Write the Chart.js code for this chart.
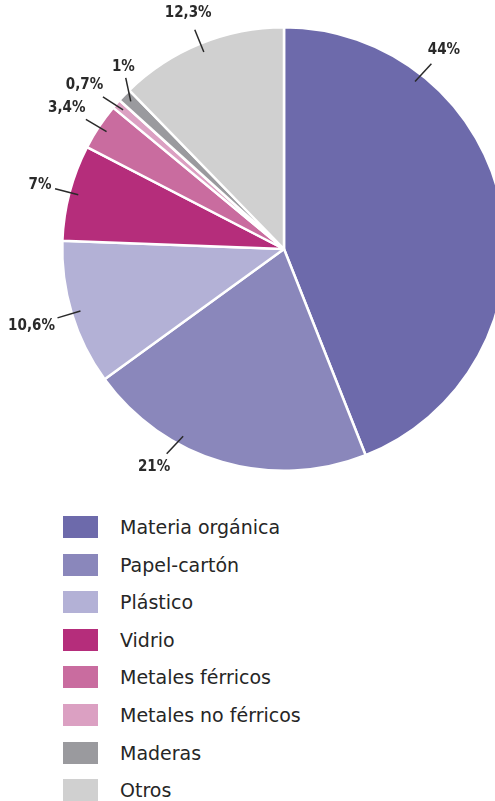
<!DOCTYPE html>
<html>
<head>
<meta charset="utf-8">
<script src="https://cdn.jsdelivr.net/npm/chart.js@4/dist/chart.umd.min.js"></script>
<style>
  html, body { margin: 0; padding: 0; width: 495px; height: 801px; overflow: hidden; background: #fff; }
  #pie { position: absolute; left: 0; top: 0; }
  #legend { position: absolute; left: 63px; top: 516px; font-family: "DejaVu Sans", sans-serif; font-size: 19px; color: #262626; }
  .item { height: 37.6px; display: flex; align-items: flex-start; }
  .box { width: 35px; height: 22px; margin-right: 22px; }
  .lbl { line-height: 22px; }
</style>
</head>
<body>
<canvas id="pie" width="570" height="480"></canvas>
<div id="legend"></div>
<script>
const categories = [
  'Materia orgánica',
  'Papel-cartón',
  'Plástico',
  'Vidrio',
  'Metales férricos',
  'Metales no férricos',
  'Maderas',
  'Otros'
];

const shares = [44, 21, 10.6, 7, 3.4, 0.7, 1, 12.3];

const colors = ['#6d6aab', '#8a87bb', '#b3b1d6', '#b52d7b', '#c96c9f', '#dba0c2', '#9a9a9e', '#d0d0d0'];

// where each leader line sits inside its slice (fraction of the arc) and how it leans
const leaders = [
  { at: 0.24, tilt: 5 },
  { at: 0.66, tilt: 15 },
  { at: 0.5, tilt: 0 },
  { at: 0.5, tilt: 0 },
  { at: 0.5, tilt: -3 },
  { at: 0.5, tilt: -8 },
  { at: 0.5, tilt: 34 },
  { at: 0.5, tilt: 0 }
];

const pctText = v => String(v).replace('.', ',') + '%';

const leaderLabels = {
  id: 'leaderLabels',
  afterDraw(chart) {
    const ctx = chart.ctx;
    const meta = chart.getDatasetMeta(0);
    ctx.save();
    ctx.font = 'bold 15px "DejaVu Sans Condensed", "DejaVu Sans", sans-serif';
    ctx.fillStyle = '#2a2a2a';
    ctx.strokeStyle = '#2a2a2a';
    ctx.lineWidth = 1.5;
    ctx.textAlign = 'center';
    ctx.textBaseline = 'middle';
    meta.data.forEach((arc, i) => {
      const p = arc.getProps(['x', 'y', 'startAngle', 'endAngle', 'outerRadius'], true);
      const set = leaders[i];
      const a = p.startAngle + (p.endAngle - p.startAngle) * set.at;
      const r0 = p.outerRadius - 9;
      const x0 = p.x + Math.cos(a) * r0, y0 = p.y + Math.sin(a) * r0;
      const b = a + set.tilt * Math.PI / 180;
      const ux = Math.cos(b), uy = Math.sin(b);
      const x1 = x0 + ux * 24, y1 = y0 + uy * 24;
      ctx.beginPath();
      ctx.moveTo(x0, y0);
      ctx.lineTo(x1, y1);
      ctx.stroke();
      const text = pctText(chart.data.datasets[0].data[i]);
      const w = ctx.measureText(text).width, h = 12;
      const d = Math.abs(ux) * w / 2 + Math.abs(uy) * h / 2 + 3;
      ctx.fillText(text, x1 + ux * d, y1 + uy * d);
    });
    ctx.restore();
  }
};

const chart = new Chart(document.getElementById('pie'), {
  type: 'pie',
  data: {
    labels: categories,
    datasets: [{
      data: shares,
      backgroundColor: colors,
      borderColor: '#ffffff',
      borderWidth: 2.5
    }]
  },
  options: {
    responsive: false,
    animation: false,
    layout: { padding: { left: 61, top: 26, right: 63, bottom: 8 } },
    plugins: {
      legend: { display: false },
      tooltip: { enabled: false }
    }
  },
  plugins: [leaderLabels]
});

// legend built from the chart's own legend items
const legendEl = document.getElementById('legend');
chart.options.plugins.legend.labels.generateLabels(chart).forEach(it => {
  const row = document.createElement('div');
  row.className = 'item';
  const box = document.createElement('div');
  box.className = 'box';
  box.style.background = it.fillStyle;
  const lbl = document.createElement('div');
  lbl.className = 'lbl';
  lbl.textContent = it.text;
  row.appendChild(box);
  row.appendChild(lbl);
  legendEl.appendChild(row);
});
</script>
</body>
</html>
